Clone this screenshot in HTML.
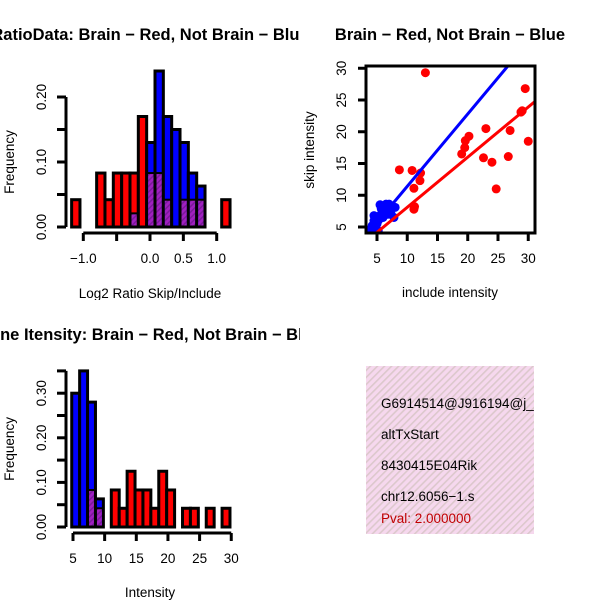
<!DOCTYPE html>
<html><head><meta charset="utf-8"><style>
html,body{margin:0;padding:0;background:#fff}
svg{display:block;font-family:"Liberation Sans",sans-serif}
</style></head><body>
<svg id="c" width="600" height="600" viewBox="0 0 600 600" xmlns="http://www.w3.org/2000/svg">
<defs>
<pattern id="hatch" width="4" height="4" patternUnits="userSpaceOnUse" patternTransform="rotate(45)">
<rect width="4" height="4" fill="#a020c0"/><rect width="1.5" height="4" fill="#7a1a9a"/>
</pattern>
<pattern id="pinkh" width="5" height="5" patternUnits="userSpaceOnUse" patternTransform="rotate(45)">
<rect width="5" height="5" fill="#f6d8ee"/><rect width="1.6" height="5" fill="#dcc8cc"/>
</pattern>
<clipPath id="boxclip"><rect x="366" y="366" width="168" height="168"/></clipPath>
<clipPath id="leftTop"><rect x="0" y="0" width="300" height="300"/></clipPath>
<clipPath id="leftBot"><rect x="0" y="300" width="300" height="300"/></clipPath>
</defs>
<g id="p1" clip-path="url(#leftTop)"></g>
<g id="p2"></g>
<g id="p3" clip-path="url(#leftBot)"></g>
<g clip-path="url(#boxclip)">
<rect x="366" y="366" width="168" height="168" fill="url(#pinkh)"/>
<text x="381" y="408" font-size="13.5">G6914514@J916194@j_10</text>
<text x="381" y="439" font-size="13.5">altTxStart</text>
<text x="381" y="470" font-size="13.5">8430415E04Rik</text>
<text x="381" y="501" font-size="13.5">chr12.6056−1.s</text>
<text x="381" y="523" font-size="13.5" fill="#c00000">Pval: 2.000000</text>
</g>
</svg>
<script>
// Ratio histogram data (bins of 0.125 from -1.175)
const ratioBinStart = -1.175;
const ratioBinWidth = 0.125;
const ratioRed  = [0.042,0,0,0.083,0.042,0.083,0.083,0.083,0.17,0.083,0.083,0.042,0,0.042,0.042,0.042,0,0,0.042];
const ratioBlue = [0,0,0,0,0,0,0,0.021,0,0.13,0.24,0.17,0.15,0.13,0.083,0.063,0,0,0];
const ratioXTicks = [-1.0,-0.5,0.0,0.5,1.0];
const ratioXLabels = ["−1.0","","0.0","0.5","1.0"];
const ratioYTicks = [0,0.05,0.10,0.15,0.20];
const ratioYLabels = ["0.00","","0.10","","0.20"];
// Intensity histogram data (bins of 1.25 from 4.8)
const intBinStart = 4.8;
const intBinWidth = 1.25;
const intRed  = [0,0,0.083,0.042,0,0.083,0.042,0.125,0.083,0.083,0.042,0.125,0.083,0,0.042,0.042,0,0.042,0,0.042];
const intBlue = [0.30,0.35,0.28,0.063,0,0,0,0,0,0,0,0,0,0,0,0,0,0,0,0];
const intXTicks = [5,10,15,20,25,30];
const intYTicks = [0,0.05,0.10,0.15,0.20,0.25,0.30,0.35];
const intYLabels = ["0.00","","0.10","","0.20","","0.30",""];
// Scatter data
const redInc  = [13,29.5,29,28.8,30,27,26.7,23,22.6,24,24.7,20.2,19.6,19.5,19,8.7,10.8,12.2,12.1,11.1,11.2,11.1];
const redSkip = [29.3,26.8,23.3,23.1,18.5,20.2,16.1,20.5,15.9,15.2,11,19.3,18.6,17.5,16.5,14,13.9,13.5,12.3,11.1,8.2,7.8];
const blueInc  = [4.5,4.2,5,5.2,5.5,5.8,6,6.2,6.5,6.8,7,7.2,7.5,7.8,8,6,5.5,4.8,6.6,7.3,5.7,6.3,4.5,7,3.9,5.2];
const blueSkip = [6.8,5.2,5.5,6,8.5,7.2,8.2,7.5,8.6,7,8.2,7.8,8,6.5,8.1,6.5,6.8,5,7.8,7.1,7.9,6.9,6,8.6,4.6,4.4];
const redLine = [0.2,0.79];   // intercept, slope
const blueLine = [0.0,1.14];
const scXTicks = [5,10,15,20,25,30];
const scYTicks = [5,10,15,20,25,30];

const FS = 13.5, TFS = 16.5;
const NS="http://www.w3.org/2000/svg";
function mk(parent,tag,attrs,text){const e=document.createElementNS(NS,tag);for(const k in attrs)e.setAttribute(k,attrs[k]);if(text!==undefined)e.textContent=text;parent.appendChild(e);return e;}

function drawHist(g,binStart,binW,red,blue,sx,sy,xTicks,xLabels,yTicks,yLabels,axisX,axisY,title,titleY,xlab,xlabY){
  for(let i=0;i<red.length;i++){
    const r=red[i],b=blue[i];
    if(r===0&&b===0)continue;
    const x0=sx(binStart+i*binW),x1=sx(binStart+(i+1)*binW);
    const top=Math.max(r,b),low=Math.min(r,b);
    const bar=mk(g,'rect',{x:x0,y:sy(top),width:x1-x0,height:sy(0)-sy(top),fill:b>r?'#0000ff':'#ff0000',stroke:'#000','stroke-width':3});
    
    
    if(low>0){
      const ov=mk(g,'rect',{x:x0+1.5,y:sy(low),width:x1-x0-3,height:sy(0)-sy(low)-1.5,fill:'url(#hatch)'});
      
      
      mk(g,'line',{x1:x0,x2:x1,y1:sy(low),y2:sy(low),stroke:'#000','stroke-width':2});
    }
  }
  const ya=mk(g,'line',{x1:axisX,x2:axisX,y1:sy(yTicks[0]),y2:sy(yTicks[yTicks.length-1]),stroke:'#000','stroke-width':3});
  
  
  yTicks.forEach((t,i)=>{
    mk(g,'line',{x1:axisX-9,x2:axisX,y1:sy(t),y2:sy(t),stroke:'#000','stroke-width':3});
    if(yLabels[i]){const tl=mk(g,'text',{x:0,y:0,'font-size':FS,'text-anchor':'middle',transform:`translate(46,${sy(t)}) rotate(-90)`},yLabels[i]);
      
      }
  });
  const xa=mk(g,'line',{x1:sx(xTicks[0]),x2:sx(xTicks[xTicks.length-1]),y1:axisY,y2:axisY,stroke:'#000','stroke-width':3});
  
  
  xTicks.forEach((t,i)=>{
    mk(g,'line',{x1:sx(t),x2:sx(t),y1:axisY,y2:axisY+8,stroke:'#000','stroke-width':3});
    if(xLabels[i]){const tl=mk(g,'text',{x:sx(t),y:axisY+30,'font-size':FS,'text-anchor':'middle'},xLabels[i]);
      
      }
  });
  const yl=mk(g,'text',{x:0,y:0,'font-size':FS,'text-anchor':'middle',transform:`translate(14,${(sy(yTicks[0])+sy(yTicks[yTicks.length-1]))/2}) rotate(-90)`},'Frequency');
  
  
  const xl=mk(g,'text',{x:150,y:xlabY,'font-size':FS,'text-anchor':'middle'},xlab);
  
  
  const tt=mk(g,'text',{x:150,y:titleY,'font-size':TFS,'font-weight':'bold','text-anchor':'middle'},title);
  
  
}

const p1=document.getElementById('p1');
drawHist(p1,ratioBinStart,ratioBinWidth,ratioRed,ratioBlue,
  v=>150+66.7*v, f=>227-650*f,
  ratioXTicks,ratioXLabels,ratioYTicks,ratioYLabels,66,233,
  'RatioData: Brain − Red, Not Brain − Blue',40,'Log2 Ratio Skip/Include',298);

const p3=document.getElementById('p3');
drawHist(p3,intBinStart,intBinWidth,intRed,intBlue,
  v=>73+6.33*(v-5), f=>527-446*f,
  intXTicks,intXTicks.map(String),intYTicks,intYLabels,66,533,
  'Gene Itensity: Brain − Red, Not Brain − Blue',340,'Intensity',597);

const p2=document.getElementById('p2');
const sx=v=>377+6.05*(v-5), sy=v=>227-6.35*(v-5);
mk(p2,'clipPath',{id:'scclip'}).appendChild(document.createElementNS(NS,'rect'));
const cr=p2.querySelector('#scclip rect');cr.setAttribute('x',366);cr.setAttribute('y',66);cr.setAttribute('width',169);cr.setAttribute('height',167);
const pg=mk(p2,'g',{'clip-path':'url(#scclip)'});
redInc.forEach((v,i)=>{const c=mk(pg,'circle',{cx:sx(v),cy:sy(redSkip[i]),r:4.5,fill:'#ff0000'});
  
  });
blueInc.forEach((v,i)=>{const c=mk(pg,'circle',{cx:sx(v),cy:sy(blueSkip[i]),r:4.5,fill:'#0000ff'});
  
  });
[[redLine,'#ff0000','red-fit-line'],[blueLine,'#0000ff','blue-fit-line']].forEach(([L,col,nm])=>{
  const l=mk(pg,'line',{x1:sx(2),y1:sy(L[0]+L[1]*2),x2:sx(35),y2:sy(L[0]+L[1]*35),stroke:col,'stroke-width':3});
  
  
});
const box=mk(p2,'rect',{x:366,y:66,width:169,height:167,fill:'none',stroke:'#000','stroke-width':3});


scXTicks.forEach(t=>{mk(p2,'line',{x1:sx(t),x2:sx(t),y1:233,y2:241,stroke:'#000','stroke-width':3});
  const tl=mk(p2,'text',{x:sx(t),y:263,'font-size':FS,'text-anchor':'middle'},String(t));
  
  });
scYTicks.forEach(t=>{mk(p2,'line',{x1:358,x2:366,y1:sy(t),y2:sy(t),stroke:'#000','stroke-width':3});
  const tl=mk(p2,'text',{x:0,y:0,'font-size':FS,'text-anchor':'middle',transform:`translate(346,${sy(t)}) rotate(-90)`},String(t));
  
  });
const sxl=mk(p2,'text',{x:450,y:297,'font-size':FS,'text-anchor':'middle'},'include intensity');


const syl=mk(p2,'text',{x:0,y:0,'font-size':FS,'text-anchor':'middle',transform:'translate(314,150) rotate(-90)'},'skip intensity');


const stt=mk(p2,'text',{x:450,y:40,'font-size':TFS,'font-weight':'bold','text-anchor':'middle'},'Brain − Red, Not Brain − Blue');


</script>
</body></html>
